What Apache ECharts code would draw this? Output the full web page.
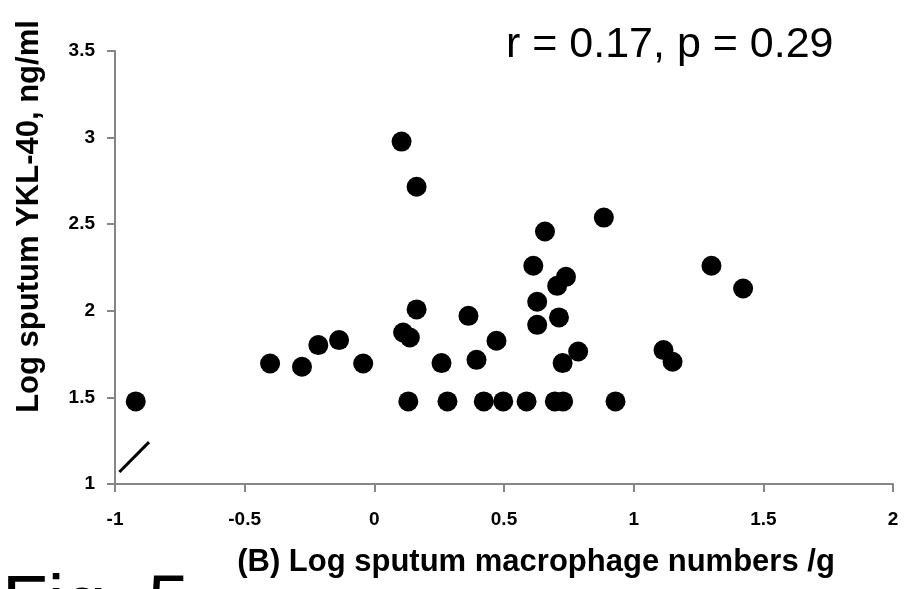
<!DOCTYPE html>
<html>
<head>
<meta charset="utf-8">
<script src="https://cdn.jsdelivr.net/npm/echarts@6/dist/echarts.min.js"></script>
<style>
html,body{margin:0;padding:0;background:#fff;}
#chart{width:909px;height:589px;}
</style>
</head>
<body>
<div id="chart"></div>
<script>
// Log sputum macrophage numbers /g (x)
var macrophageLog = [
  -0.920, -0.402, -0.279, -0.216, -0.136, -0.043,
  0.105, 0.163, 0.163, 0.363, 0.111, 0.137, 0.259, 0.394, 0.471,
  0.131, 0.282, 0.422, 0.497, 0.587, 0.696, 0.728, 0.930,
  0.658, 0.885, 0.613, 0.739, 0.705, 0.628, 0.628, 0.712, 0.786, 0.726,
  1.300, 1.422, 1.115, 1.150
];
// Log sputum YKL-40, ng/ml (y)
var ykl40Log = [
  1.477, 1.696, 1.677, 1.802, 1.831, 1.696,
  2.977, 2.716, 2.008, 1.971, 1.875, 1.846, 1.698, 1.717, 1.827,
  1.477, 1.477, 1.477, 1.477, 1.477, 1.477, 1.477, 1.477,
  2.458, 2.538, 2.260, 2.196, 2.144, 2.052, 1.919, 1.962, 1.765, 1.698,
  2.260, 2.129, 1.773, 1.706
];
// axis break mark (data coordinates)
var breakX = [-0.983, -0.869];
var breakY = [1.069, 1.242];

var xTicks = ['-1', '-0.5', '0', '0.5', '1', '1.5', '2'];
var yTicks = ['1', '1.5', '2', '2.5', '3', '3.5'];

var xTitle = '(B) Log sputum macrophage numbers /g';
var yTitle = 'Log sputum YKL-40, ng/ml';
var statText = 'r = 0.17, p = 0.29';
var figText = 'Fig. 5';

var points = macrophageLog.map(function (x, i) { return [x, ykl40Log[i]]; });
var breakLine = breakX.map(function (x, i) { return [x, breakY[i]]; });

var axisColor = '#868686';
var font = '"Liberation Sans", Arial, sans-serif';

var chart = echarts.init(document.getElementById('chart'), null, {renderer: 'canvas'});
chart.setOption({
  backgroundColor: '#ffffff',
  animation: false,
  grid: {left: 115, right: 16, top: 51, bottom: 105, containLabel: false},
  xAxis: {
    type: 'value', min: -1, max: 2, interval: 0.5,
    axisLine: {show: true, onZero: false, lineStyle: {color: axisColor, width: 2}},
    axisTick: {show: true, length: 8, lineStyle: {color: axisColor, width: 2}},
    splitLine: {show: false},
    axisLabel: {
      margin: 26, color: '#000', fontSize: 19, fontWeight: 'bold', fontFamily: font,
      formatter: function (v) { var s = String(Math.round(v * 10) / 10); return xTicks.indexOf(s) >= 0 ? s : ''; }
    },
    name: xTitle, nameLocation: 'middle', nameGap: 63,
    nameTextStyle: {color: '#000', fontSize: 31, fontWeight: 'bold', fontFamily: font, padding: [0, 0, 0, 64]}
  },
  yAxis: {
    type: 'value', min: 1, max: 3.5, interval: 0.5,
    axisLine: {show: true, onZero: false, lineStyle: {color: axisColor, width: 2}},
    axisTick: {show: true, length: 8, lineStyle: {color: axisColor, width: 2}},
    splitLine: {show: false},
    axisLabel: {
      margin: 20, color: '#000', fontSize: 19, fontWeight: 'bold', fontFamily: font,
      formatter: function (v) { var s = String(Math.round(v * 10) / 10); return yTicks.indexOf(s) >= 0 ? s : ''; }
    },
    name: yTitle, nameLocation: 'middle', nameGap: 70, nameRotate: 90,
    nameTextStyle: {color: '#000', fontSize: 31, fontWeight: 'bold', fontFamily: font, padding: [0, 0, 0, 102]}
  },
  graphic: [
    {type: 'text', left: 506, top: 24, silent: true,
     style: {text: statText, fill: '#000', font: '43px ' + font}},
    {type: 'text', left: 2, top: 569, silent: true,
     style: {text: figText, fill: '#000', font: '75px ' + font}}
  ],
  series: [
    {
      type: 'scatter', data: points, symbol: 'circle', symbolSize: 20,
      itemStyle: {color: '#000', opacity: 1}
    },
    {
      type: 'line', data: breakLine, symbol: 'none', silent: true,
      lineStyle: {color: '#000', width: 3}
    }
  ]
});
</script>
</body>
</html>
